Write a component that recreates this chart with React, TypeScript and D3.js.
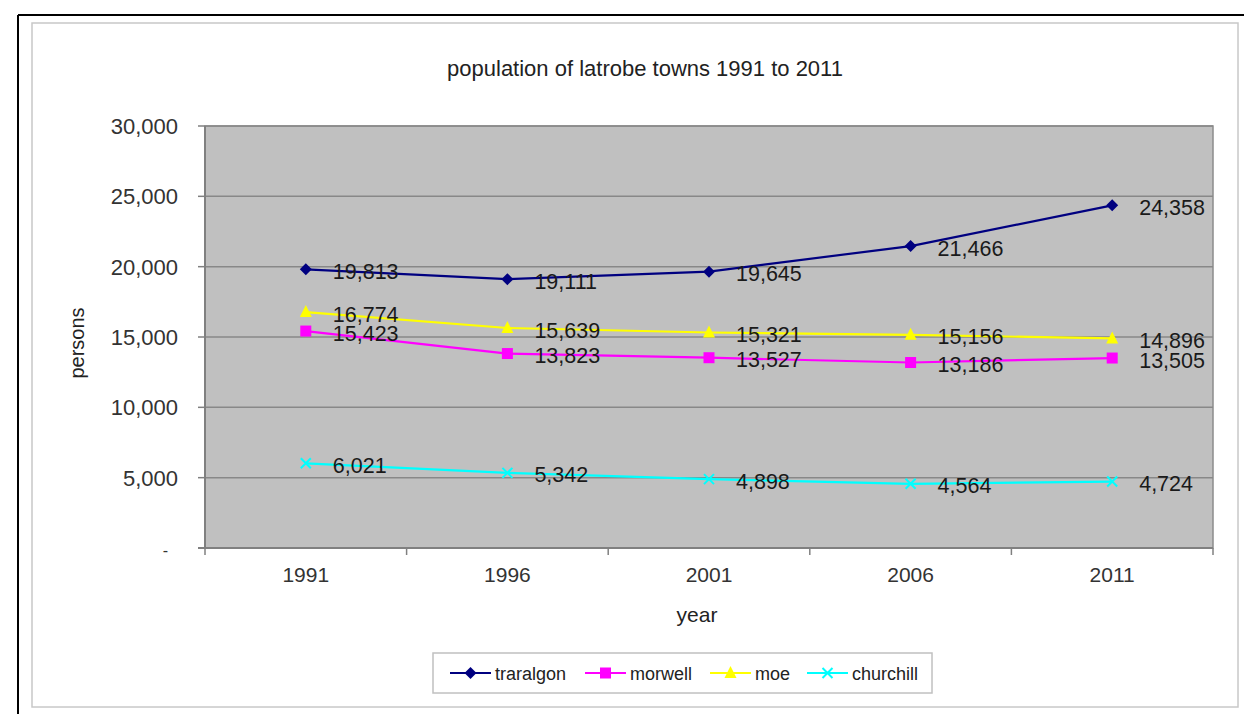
import React from "react";
import * as d3 from "d3";

const years = ["1991", "1996", "2001", "2006", "2011"];
const traralgon = [19813, 19111, 19645, 21466, 24358];
const morwell = [15423, 13823, 13527, 13186, 13505];
const moe = [16774, 15639, 15321, 15156, 14896];
const churchill = [6021, 5342, 4898, 4564, 4724];
const yTicks = [0, 5000, 10000, 15000, 20000, 25000, 30000];
const seriesNames = ["traralgon", "morwell", "moe", "churchill"];
const seriesColors = ["#000080", "#FF00FF", "#FFFF00", "#00FFFF"];
const seriesMarkers = ["diamond", "square", "triangle", "x"];
const title = "population of latrobe towns 1991 to 2011";

const W = 1244;
const H = 714;
const FONT = "'Liberation Sans', Arial, sans-serif";

function Marker({ kind, x, y, color }: { kind: string; x: number; y: number; color: string }) {
  if (kind === "diamond") {
    const s = 6;
    return <path d={`M${x},${y - s}L${x + s},${y}L${x},${y + s}L${x - s},${y}Z`} fill={color} />;
  }
  if (kind === "square") {
    const s = 5.5;
    return <rect x={x - s} y={y - s} width={2 * s} height={2 * s} fill={color} />;
  }
  if (kind === "triangle") {
    const s = 6;
    return <path d={`M${x},${y - s - 1}L${x + s},${y + s - 1}L${x - s},${y + s - 1}Z`} fill={color} />;
  }
  const s = 5;
  return (
    <path
      d={`M${x - s},${y - s}L${x + s},${y + s}M${x - s},${y + s}L${x + s},${y - s}`}
      stroke={color}
      strokeWidth={2}
      fill="none"
    />
  );
}

export default function App() {
  const left = 205, right = 1213, top = 126, bottom = 548;
  const x = d3.scaleBand<string>().domain(years).range([left, right]).padding(0);
  const y = d3.scaleLinear().domain([0, 30000]).range([bottom, top]);
  const cx = (d: string) => (x(d) as number) + x.bandwidth() / 2;
  const fmt = d3.format(",");
  const allSeries = [traralgon, morwell, moe, churchill];
  const line = d3
    .line<number>()
    .x((_, i) => cx(years[i]))
    .y((v) => y(v));

  const legendX = [450, 585, 710, 807];

  return (
    <div style={{ position: "absolute", left: 0, top: 0 }}>
      <svg width={W} height={H} style={{ display: "block", fontFamily: FONT }}>
        <rect x={0} y={0} width={W} height={H} fill="#ffffff" />
        {/* outer black frame */}
        <line x1={18} y1={15} x2={W} y2={15} stroke="#000" strokeWidth={2} />
        <line x1={18} y1={15} x2={18} y2={H} stroke="#000" strokeWidth={2} />
        {/* inner chart frame */}
        <rect x={32} y={23} width={1206} height={684} fill="#fff" stroke="#c8c8c8" strokeWidth={1.5} />

        <text x={645} y={76} textAnchor="middle" fontSize={22} fill="#222">
          {title}
        </text>

        {/* plot area */}
        <rect x={left} y={top} width={right - left} height={bottom - top} fill="#c0c0c0" stroke="#8c8c8c" strokeWidth={1.5} />
        {yTicks
          .filter((t) => t > 0)
          .map((t) => (
            <line key={"g" + t} x1={left} x2={right} y1={y(t)} y2={y(t)} stroke="#888888" strokeWidth={1.5} />
          ))}
        {/* axes */}
        <line x1={left} x2={left} y1={top} y2={bottom} stroke="#808080" strokeWidth={2} />
        <line x1={198} x2={right} y1={bottom} y2={bottom} stroke="#808080" strokeWidth={2} />
        {yTicks.map((t) => (
          <g key={"yt" + t}>
            <line x1={198} x2={left} y1={y(t)} y2={y(t)} stroke="#808080" strokeWidth={1.5} />
            <text
              x={t === 0 ? 168 : 178}
              y={y(t) + 8}
              textAnchor="end"
              fontSize={t === 0 ? 16 : 22}
              fill="#333"
            >
              {t === 0 ? "-" : fmt(t)}
            </text>
          </g>
        ))}
        {years.map((yr, i) => (
          <line key={"xt" + i} x1={x(yr) as number} x2={x(yr) as number} y1={bottom} y2={bottom + 7} stroke="#808080" strokeWidth={1.5} />
        ))}
        <line x1={right} x2={right} y1={bottom} y2={bottom + 7} stroke="#808080" strokeWidth={1.5} />
        {years.map((yr) => (
          <text key={"xl" + yr} x={cx(yr)} y={582} textAnchor="middle" fontSize={21} fill="#333">
            {yr}
          </text>
        ))}
        <text x={697} y={622} textAnchor="middle" fontSize={21} fill="#222">
          year
        </text>
        <text
          transform={`translate(84,${(top + bottom) / 2 + 6}) rotate(-90)`}
          textAnchor="middle"
          fontSize={20}
          fill="#222"
        >
          persons
        </text>

        {/* series */}
        {allSeries.map((s, si) => (
          <g key={"s" + si}>
            <path d={line(s) || ""} fill="none" stroke={seriesColors[si]} strokeWidth={2.2} />
            {s.map((v, i) => (
              <Marker key={i} kind={seriesMarkers[si]} x={cx(years[i])} y={y(v)} color={seriesColors[si]} />
            ))}
          </g>
        ))}
        {allSeries.map((s, si) =>
          s.map((v, i) => (
            <text key={`l${si}-${i}`} x={cx(years[i]) + 27} y={y(v) + 9.5} fontSize={21.5} fill="#1a1a1a">
              {fmt(v)}
            </text>
          ))
        )}

        {/* legend */}
        <rect x={433} y={653} width={499} height={40} fill="#fff" stroke="#c0c0c0" strokeWidth={1.5} />
        {seriesNames.map((n, i) => (
          <g key={"lg" + i}>
            <line x1={legendX[i]} x2={legendX[i] + 41} y1={673} y2={673} stroke={seriesColors[i]} strokeWidth={2.2} />
            <Marker kind={seriesMarkers[i]} x={legendX[i] + 20.5} y={673} color={seriesColors[i]} />
            <text x={legendX[i] + 45} y={680} fontSize={18} fill="#222">
              {n}
            </text>
          </g>
        ))}
      </svg>
    </div>
  );
}
